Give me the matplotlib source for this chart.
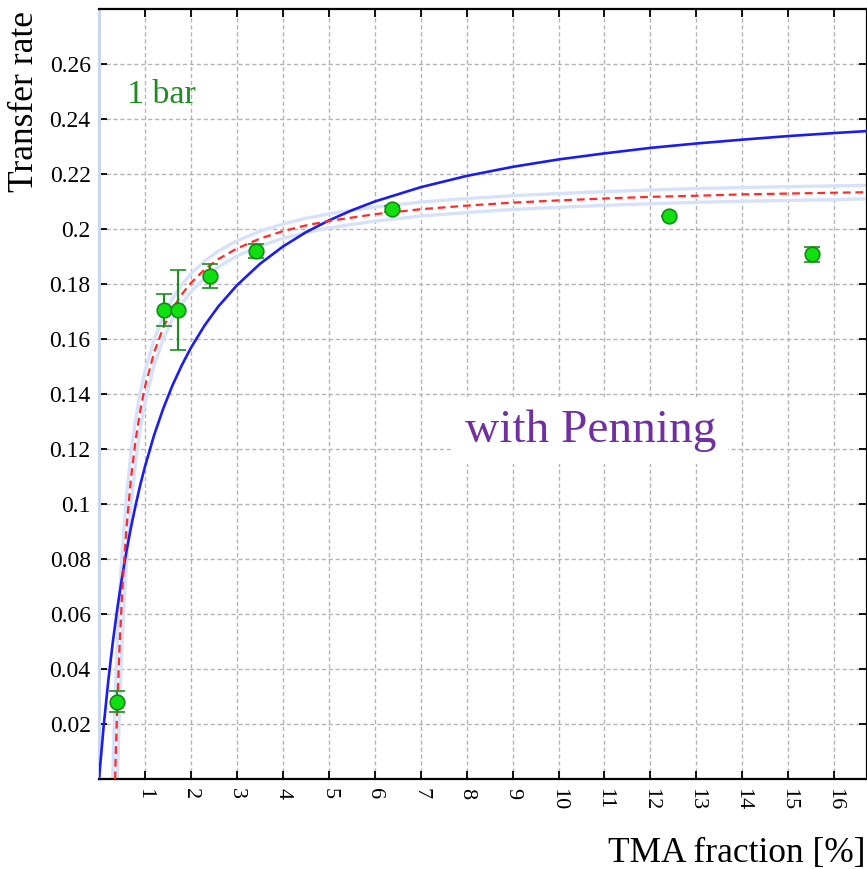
import numpy as np
import matplotlib
matplotlib.use('Agg')
import matplotlib.pyplot as plt

# measured points (TMA fraction %, transfer rate)
pt_x = [0.4, 1.41, 1.71, 2.42, 3.41, 6.37, 12.4, 15.51]
pt_y = [0.0282, 0.1707, 0.1707, 0.1831, 0.1922, 0.2073, 0.2050, 0.1909]
pt_err = [0.0038, 0.0059, 0.0145, 0.0044, 0.0025, 0.0010, 0.0, 0.0027]

# solid blue curve
blue_x = [0.0, 0.1, 0.2, 0.3, 0.4, 0.5, 0.6, 0.7, 0.8, 0.9, 1.0, 1.2, 1.4, 1.6, 1.8, 2.0,
          2.3, 2.6, 3.0, 3.5, 4.0, 4.5, 5.0, 5.5, 6.0, 7.0, 8.0, 9.0, 10.0, 11.0, 12.0,
          13.0, 14.0, 15.0, 16.0, 16.8]
blue_y = [0.0, 0.0191, 0.0355, 0.0498, 0.0623, 0.0733, 0.0832, 0.0920, 0.0999, 0.1072,
          0.1137, 0.1252, 0.1349, 0.1433, 0.1505, 0.1569, 0.1651, 0.1720, 0.1796, 0.1874,
          0.1937, 0.1989, 0.2032, 0.2069, 0.2101, 0.2153, 0.2194, 0.2227, 0.2254, 0.2276,
          0.2296, 0.2312, 0.2326, 0.2339, 0.2350, 0.2358]

# red dashed fit
red_x = [0.35, 0.37, 0.40, 0.45, 0.5, 0.55, 0.6, 0.7, 0.8, 0.9, 1.0, 1.2, 1.4, 1.6, 1.8,
         2.0, 2.3, 2.6, 3.0, 3.5, 4.0, 4.5, 5.0, 6.0, 7.0, 8.0, 9.0, 10.0, 11.0, 12.0,
         13.0, 14.0, 15.0, 16.0, 16.8]
red_y = [0.0, 0.0120, 0.0277, 0.0492, 0.0663, 0.0803, 0.0919, 0.1101, 0.1237, 0.1343,
         0.1427, 0.1553, 0.1643, 0.1711, 0.1763, 0.1805, 0.1854, 0.1892, 0.1930, 0.1966,
         0.1993, 0.2014, 0.2030, 0.2055, 0.2073, 0.2086, 0.2097, 0.2105, 0.2112, 0.2118,
         0.2122, 0.2127, 0.2130, 0.2133, 0.2135]

# pale confidence band around the fit
hi_x = [0.30, 0.32, 0.35, 0.40, 0.45, 0.5, 0.6, 0.7, 0.8, 0.9, 1.0, 1.2, 1.4, 1.6, 1.8,
        2.0, 2.3, 2.6, 3.0, 3.5, 4.0, 4.5, 5.0, 6.0, 7.0, 8.0, 9.0, 10.0, 11.0, 12.0,
        13.0, 14.0, 15.0, 16.0, 16.8]
hi_y = [0.0, 0.0123, 0.0283, 0.0501, 0.0675, 0.0817, 0.1034, 0.1192, 0.1313, 0.1407,
        0.1484, 0.1600, 0.1684, 0.1748, 0.1798, 0.1838, 0.1885, 0.1921, 0.1958, 0.1993,
        0.2019, 0.2040, 0.2056, 0.2081, 0.2099, 0.2112, 0.2122, 0.2130, 0.2137, 0.2143,
        0.2148, 0.2152, 0.2155, 0.2158, 0.2160]
lo_x = [0.40, 0.42, 0.45, 0.5, 0.55, 0.6, 0.7, 0.8, 0.9, 1.0, 1.2, 1.4, 1.6, 1.8, 2.0,
        2.3, 2.6, 3.0, 3.5, 4.0, 4.5, 5.0, 6.0, 7.0, 8.0, 9.0, 10.0, 11.0, 12.0, 13.0,
        14.0, 15.0, 16.0, 16.8]
lo_y = [0.0, 0.0118, 0.0273, 0.0484, 0.0653, 0.0791, 0.1002, 0.1157, 0.1275, 0.1368,
        0.1506, 0.1602, 0.1674, 0.1729, 0.1773, 0.1824, 0.1863, 0.1903, 0.1939, 0.1967,
        0.1988, 0.2005, 0.2030, 0.2048, 0.2061, 0.2072, 0.2080, 0.2087, 0.2093, 0.2098,
        0.2102, 0.2105, 0.2108, 0.2111]

xticks = list(range(1, 17))
yticks = [0.02, 0.04, 0.06, 0.08, 0.1, 0.12, 0.14, 0.16, 0.18, 0.2, 0.22, 0.24, 0.26]
ytick_labels = ['0.02', '0.04', '0.06', '0.08', '0.1', '0.12', '0.14', '0.16', '0.18',
                '0.2', '0.22', '0.24', '0.26']

plt.rcParams['font.family'] = ['Liberation Serif', 'DejaVu Serif']

W, H = 867, 869
fig = plt.figure(figsize=(W / 100, H / 100), dpi=100)
ax = fig.add_axes([99.0 / W, 1 - 779.3 / H, (867 - 99.0) / W, (779.3 - 9.3) / H])
ax.set_xlim(0, (867 - 99.0) / 45.95)
ax.set_ylim(0, 0.28)

ax.grid(True, color='#b4b4b4', linestyle=(0, (3, 2)), linewidth=1.0)
ax.set_axisbelow(True)

ax.plot(hi_x, hi_y, color='#d6e1fa', lw=2.4, zorder=2)
ax.plot(lo_x, lo_y, color='#d6e1fa', lw=2.4, zorder=2)
ax.plot(blue_x, blue_y, color='#1c1cf0', lw=1.9, zorder=3)
ax.plot(red_x, red_y, color='#ff2a2a', lw=1.6, dashes=(3.5, 2.2), zorder=4)

ax.errorbar(pt_x, pt_y, yerr=pt_err, fmt='o', ms=10.5, mfc='#10e010', mec='#138a13',
            mew=1.2, ecolor='#1e8c1e', elinewidth=1.5, capsize=5.5, capthick=1.5, zorder=5)

ax.set_xticks(xticks)
ax.set_xticklabels([str(t) for t in xticks], rotation=-90, fontsize=16)
ax.set_yticks(yticks)
ax.set_yticklabels(ytick_labels, fontsize=17)
ax.tick_params(direction='in', length=6, width=1.3, top=True, right=True, pad=6)

for s in ['top', 'bottom', 'right']:
    ax.spines[s].set_linewidth(1.6)
    ax.spines[s].set_color('black')
ax.spines['left'].set_color('#c9d6f2')
ax.spines['left'].set_linewidth(2.2)

ax.text(0.61, 0.2459, '1 bar', color='#1e8c1e', fontsize=24.5, va='baseline', ha='left')
ax.text(10.69, 0.1267, 'with Penning', color='#7030a0', fontsize=34, ha='center', va='center',
        bbox=dict(facecolor='white', edgecolor='none', pad=9), zorder=6)

fig.text(25 / W, 1 - 101.5 / H, 'Transfer rate', rotation=90, fontsize=25.5,
         ha='center', va='center')
fig.text(608 / W, 1 - 861.7 / H, 'TMA fraction [%]', fontsize=25.5, ha='left', va='baseline')

fig.savefig('out.png', dpi=100)
